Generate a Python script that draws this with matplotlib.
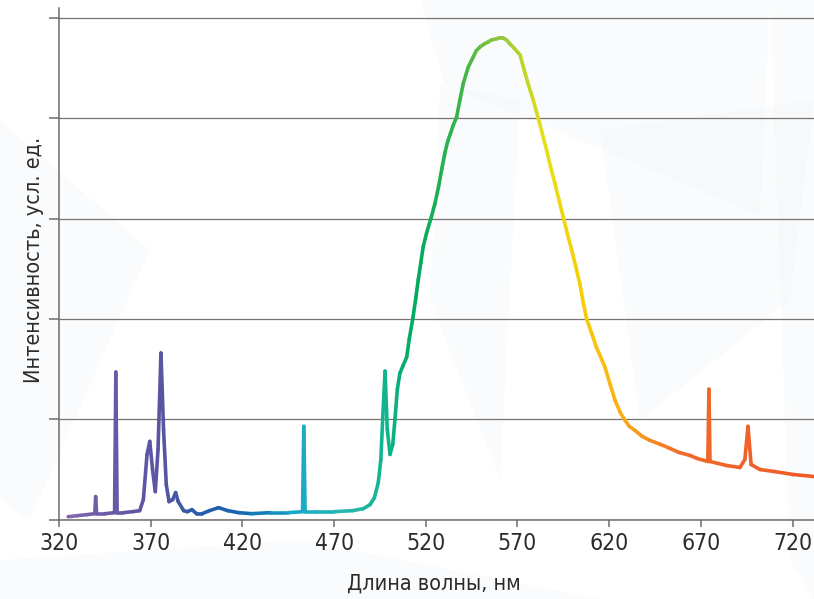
import numpy as np
import matplotlib.pyplot as plt
from matplotlib.collections import LineCollection
from matplotlib.colors import LinearSegmentedColormap
from matplotlib.patches import Polygon
from matplotlib import font_manager

# spectrum (y in gridline units)
wavelength = [325, 330, 335, 339.5, 340, 340.5, 345, 350.3, 351, 351.7, 355, 360, 364, 366, 368, 369.5,
              371, 372.5, 374, 375.6, 377, 378.5, 380, 382, 383.6, 385, 388, 390, 392.5, 395, 398, 402,
              407, 412, 418, 425, 435, 445, 452.8, 453.5, 454.2, 460, 470, 480, 486, 489.6, 492, 494.1,
              495.5, 496.5, 497.8, 499, 500.5, 502, 503.2, 504.5, 505.9, 507.5, 509.6, 511, 512.9, 514.5,
              515.9, 517.3, 518.6, 520.5, 522.8, 525, 527, 528.8, 530.5, 532, 533.5, 535, 536.8, 538.6,
              540.5, 543.2, 545.9, 547.5, 549.6, 552, 554.1, 556, 558.6, 560, 562, 564, 565.9, 568,
              571.4, 574.1, 576, 578.6, 581.3, 583.5, 585.9, 588, 590.4, 592.7, 595, 597.2, 599.5,
              601.8, 604, 606, 607.7, 610.4, 613, 617.7, 620.5, 623.2, 626, 628.6, 631, 634, 638,
              642.2, 648, 653.2, 658, 664.1, 668, 673.8, 674.4, 675.0, 684, 691.3, 694, 695.7,
              697.4, 702.2, 710, 720.4, 731.7]
intensity = [0.03, 0.04, 0.05, 0.06, 0.23, 0.06, 0.06, 0.07, 1.47, 0.07, 0.07, 0.08, 0.09, 0.2, 0.65, 0.78,
             0.5, 0.28, 0.7, 1.66, 0.9, 0.35, 0.18, 0.2, 0.27, 0.18, 0.09, 0.08, 0.1, 0.06, 0.06, 0.09,
             0.12, 0.09, 0.07, 0.06, 0.07, 0.07, 0.08, 0.93, 0.08, 0.08, 0.08, 0.09, 0.11, 0.15, 0.22, 0.37,
             0.6, 1.0, 1.48, 0.9, 0.65, 0.75, 1.0, 1.3, 1.46, 1.53, 1.62, 1.8, 2.0, 2.2,
             2.39, 2.56, 2.72, 2.86, 3.0, 3.15, 3.32, 3.5, 3.66, 3.77, 3.85, 3.93, 4.01, 4.18,
             4.35, 4.51, 4.61, 4.67, 4.71, 4.74, 4.76, 4.78, 4.79, 4.8, 4.8, 4.78, 4.74, 4.7,
             4.63, 4.45, 4.33, 4.18, 4.0, 3.85, 3.68, 3.52, 3.35, 3.18, 3.01, 2.85, 2.69,
             2.52, 2.35, 2.15, 2.0, 1.86, 1.72, 1.52, 1.35, 1.19, 1.07, 0.99, 0.93, 0.89, 0.83,
             0.79, 0.75, 0.71, 0.67, 0.64, 0.61, 0.58, 1.3, 0.58, 0.54, 0.52, 0.6, 0.93,
             0.55, 0.5, 0.48, 0.45, 0.43]

xticks = [320, 370, 420, 470, 520, 570, 620, 670, 720]

# colour along wavelength
stops_nm = [320, 345, 375, 395, 420, 450, 480, 498, 515, 540, 560, 585, 605, 625, 640, 660, 732]
stops_col = ['#8a6bb0', '#6a5aa8', '#5a55a2', '#2a5aa8', '#1566b0', '#19a9c9', '#2bb8aa', '#10b48e',
             '#00aa5c', '#3cb54a', '#8dc63f', '#e5df1a', '#f6cf05', '#fbb117', '#f7941d', '#f26a2a',
             '#ef5a28']
lo, hi = stops_nm[0], stops_nm[-1]
cmap = LinearSegmentedColormap.from_list(
    'spec', [((s - lo) / (hi - lo), c) for s, c in zip(stops_nm, stops_col)])

fig = plt.figure(figsize=(8.14, 5.99), dpi=100)

# faint background shapes
bg = fig.add_axes([0, 0, 1, 1], zorder=-1)
bg.set_xlim(0, 814)
bg.set_ylim(599, 0)
bg.axis('off')
shapes = [
    [(420, 0), (770, 0), (760, 215), (445, 85)],
    [(440, 85), (520, 100), (500, 480), (430, 300)],
    [(770, 0), (814, 0), (814, 600), (790, 560)],
    [(0, 560), (300, 540), (600, 599), (0, 599)],
    [(600, 130), (814, 100), (790, 300), (640, 420)],
    [(0, 120), (150, 250), (30, 520), (0, 500)],
]
for s in shapes:
    bg.add_patch(Polygon(s, closed=True, facecolor='#e8eef2', edgecolor='none', alpha=0.2))

ax = fig.add_axes([59 / 814, 79.3 / 599, 755 / 814, 511.7 / 599])
ax.patch.set_alpha(0)

x = np.array(wavelength)
y = np.array(intensity)
pts = np.column_stack([x, y]).reshape(-1, 1, 2)
segs = np.concatenate([pts[:-1], pts[1:]], axis=1)
lc = LineCollection(segs, cmap=cmap, linewidths=2.6, capstyle='round', joinstyle='round', zorder=3)
lc.set_array((x[:-1] + x[1:]) / 2)
lc.set_clim(lo, hi)
ax.add_collection(lc)

ax.set_xlim(320, 731.7)
ax.set_ylim(0, 5.097)
ax.set_xticks(xticks)
ax.set_yticks([0, 1, 2, 3, 4, 5])
ax.set_yticklabels([])
ax.grid(axis='y', color='#77736f', linewidth=0.9)
ax.set_axisbelow(True)

for side in ['top', 'right']:
    ax.spines[side].set_visible(False)
for side in ['left', 'bottom']:
    ax.spines[side].set_color('#6f6b67')
    ax.spines[side].set_linewidth(1.1)

fp_tick = font_manager.FontProperties(family='DejaVu Sans', stretch='condensed', size=16.5)
fp_lab = font_manager.FontProperties(family='DejaVu Sans', stretch='condensed', size=15.5)
ax.tick_params(axis='x', length=5, width=1.1, color='#6f6b67', pad=4, labelcolor='#2b2b2b')
ax.tick_params(axis='y', length=7, width=1.1, color='#6f6b67')
for t in ax.get_xticklabels():
    t.set_fontproperties(fp_tick)

fig.text(434 / 814, 1 - 584 / 599, 'Длина волны, нм', ha='center', va='center',
         color='#2b2b2b', fontproperties=fp_lab)
fig.text(34 / 814, 1 - 260 / 599, 'Интенсивность, усл. ед.', ha='center', va='center',
         rotation=90, color='#2b2b2b', fontproperties=fp_lab)

fig.savefig('out.png', dpi=100)
